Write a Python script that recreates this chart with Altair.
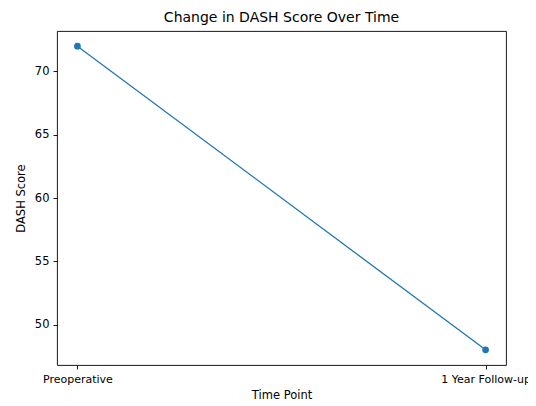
import altair as alt
import pandas as pd

time_points = ["Preoperative", "1 Year Follow-up"]
positions = [0, 1]
dash_scores = [72, 48]

df = pd.DataFrame({"pos": positions, "label": time_points, "score": dash_scores})

FONT = "DejaVu Sans"
COLOR = "#1f77b4"

x = alt.X(
    "pos:Q",
    scale=alt.Scale(domain=[-0.05, 1.05], nice=False, zero=False),
    axis=alt.Axis(
        title="Time Point",
        values=positions,
        labelExpr="datum.value == 0 ? 'Preoperative' : '1 Year Follow-up'",
        grid=False,
        domain=False,
        tickColor="black",
        tickSize=4,
        tickWidth=0.9,
        labelPadding=4,
        labelFlush=False,
        labelFontSize=11,
        titlePadding=5,
    ),
)
y = alt.Y(
    "score:Q",
    scale=alt.Scale(domain=[46.8, 73.2], nice=False, zero=False),
    axis=alt.Axis(
        title="DASH Score",
        values=[50, 55, 60, 65, 70],
        grid=False,
        domain=False,
        tickColor="black",
        tickSize=4,
        tickWidth=0.9,
        labelPadding=4,
        titlePadding=8,
    ),
)

base = alt.Chart(df).encode(x=x, y=y)
line = base.mark_line(color=COLOR, strokeWidth=1.3)
pts = base.mark_point(color=COLOR, filled=True, size=45, opacity=1)

chart = (
    (line + pts)
    .properties(
        width=449,
        height=334,
        title=alt.TitleParams(
            "Change in DASH Score Over Time",
            font=FONT,
            fontSize=14,
            fontWeight="normal",
            color="black",
            anchor="middle",
            offset=6,
        ),
        autosize=alt.AutoSizeParams(type="none"),
        padding={"left": 49, "top": 23, "right": 22, "bottom": 40},
    )
    .configure_view(stroke="black", strokeWidth=0.9)
    .configure_axis(
        labelFont=FONT,
        titleFont=FONT,
        labelFontSize=11.5,
        titleFontSize=11.5,
        titleFontWeight="normal",
        labelColor="black",
        titleColor="black",
    )
)

chart.save("out.html", embed_options={"renderer": "svg", "actions": False})
